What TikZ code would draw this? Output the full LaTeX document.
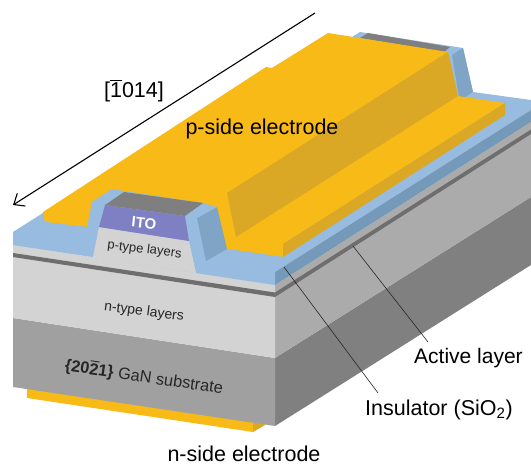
\documentclass[tikz,border=0pt]{standalone}
\usepackage{fontspec}
\setmainfont{Liberation Sans}
\usetikzlibrary{arrows.meta}
\definecolor{gold}{HTML}{F7BA16}
\definecolor{golddk}{HTML}{DBA826}
\definecolor{blu}{HTML}{97BCE0}
\definecolor{bludk}{HTML}{7FA4C6}
\definecolor{bluside}{HTML}{7599B8}
\definecolor{lgray}{HTML}{D3D3D3}
\definecolor{subgray}{HTML}{A0A0A0}
\definecolor{sidelight}{HTML}{ABABAB}
\definecolor{sidedark}{HTML}{808080}
\definecolor{activeg}{HTML}{6E6E6E}
\definecolor{itoc}{HTML}{7F7FC4}
\definecolor{capg}{HTML}{7F7F7F}
\tikzset{
  lbl/.style={font=\fontsize{21.5}{25}\selectfont,text=black,inner sep=0pt},
  lblsm/.style={font=\fontsize{14}{17}\selectfont,text=black!85,inner sep=0pt},
  leader/.style={draw=black!85,line width=0.6pt}
}
\newcommand{\barred}[1]{\leavevmode\vbox{\hrule height 0.9pt\kern 1.6pt\hbox{#1}}}
\begin{document}
\begin{tikzpicture}[x=1pt,y=-1pt]
\useasboundingbox (0,0) rectangle (531,466);
% bottom electrode
\fill[gold] (27,385)--(27,398)--(253,432)--(253,420)--cycle;
\fill[golddk] (253,420)--(253,432)--(265,425)--(265,420)--cycle;
% side faces
\fill[sidedark] (275,358)--(275,426)--(531,265)--(531,197)--cycle;
\fill[sidelight] (275,285)--(275,358)--(531,197)--(531,122)--cycle;
\fill[activeg] (275,292.5)--(275,297)--(531,134)--(531,129.5)--cycle;
% front faces
\fill[subgray] (13,318)--(13,387)--(275,426)--(275,358)--cycle;
\fill[lgray] (13,245)--(13,318)--(275,358)--(275,285)--cycle;
\fill[activeg] (13,253)--(13,257)--(275,297)--(275,292.5)--cycle;
% insulator floor
\fill[blu] (13,232)--(13,245)--(93,257)--(196,273)--(275,285)--(275,272)--(531,110)--(531,100)--(473,92)--(463,48)--(360,32)--(352,37)--(284,61)--(272,68)--cycle;
\fill[bluside] (275,272)--(275,285)--(531,122)--(531,110)--cycle;
% ridge back
\fill[bludk] (452,55)--(463,48)--(473,92)--(465,97)--(459,97)--cycle;
\fill[capg] (360,38)--(368,33)--(450,47)--(444,52)--cycle;
% top electrode
\fill[gold] (43,212)--(45,222)--(87,227)--(112,189)--(203,203)--(227,249)--(283,257)--(283,244)--(505,103)--(458,96)--(448,52)--(328,33)--(272,68)--(266,67)--cycle;
\fill[golddk] (283,244)--(283,257)--(505,115)--(505,103)--cycle;
\fill[golddk] (227,193)--(236,237)--(458,96)--(448,52)--cycle;
% left ridge insulator
\fill[blu] (87,227)--(92,202)--(112,189)--(124,192)--(105,205)--(99,227)--(93,257)--(13,245)--(13,232)--(45,222)--cycle;
% right ridge insulator
\fill[blu] (185,216)--(197,218)--(206,261)--(227,249)--(283,257)--(275,272)--(275,285)--(196,273)--cycle;
\fill[bludk] (197,218)--(217,207)--(227,249)--(206,261)--cycle;
\fill[blu] (185,216)--(203,203)--(217,207)--(197,218)--cycle;
% mesa
\fill[lgray] (99,227)--(189,241)--(196,273)--(93,257)--cycle;
\fill[itoc] (105,205)--(185,216)--(189,241)--(99,227)--cycle;
\fill[capg] (105,205)--(124,192)--(203,203)--(185,216)--cycle;
% arrow
\coordinate (arrowstart) at (315,13);
\coordinate (arrowend) at (13,205);
\draw[line width=1.1pt,-{Straight Barb[length=9pt,width=15pt,line width=1.1pt]}] (arrowstart)--(arrowend);
% labels
\node[lbl] (dir) at (134,91) {[\barred{1}014]};
\node[lbl] (pel) at (262,129) {p-side electrode};
\node[font=\fontsize{15}{18}\selectfont\bfseries,text=white,inner sep=0pt,rotate=-6] (ito) at (144,223) {ITO};
\node[lblsm,font=\fontsize{13}{16}\selectfont,rotate=-7] (ptype) at (144.5,250) {p-type layers};
\node[lblsm,rotate=-7] (ntype) at (144,312) {n-type layers};
\node[lblsm,font=\fontsize{16.4}{20}\selectfont,rotate=-8.5] (gan) at (144,377) {\textbf{\{20\barred{2}1\}} GaN substrate};
\node[lbl,anchor=west,font=\fontsize{21}{25}\selectfont] (act) at (414,358) {Active layer};
\node[lbl,anchor=west] (ins) at (365,410) {Insulator (SiO\textsubscript{2})};
\node[lbl] (nel) at (244,454) {n-side electrode};
% leaders
\coordinate (activept) at (353,246);
\coordinate (activeend) at (428,342);
\coordinate (inspt) at (284,267);
\coordinate (insend) at (378,393);
\draw[leader] (activept)--(activeend);
\draw[leader] (inspt)--(insend);
\end{tikzpicture}
\end{document}
